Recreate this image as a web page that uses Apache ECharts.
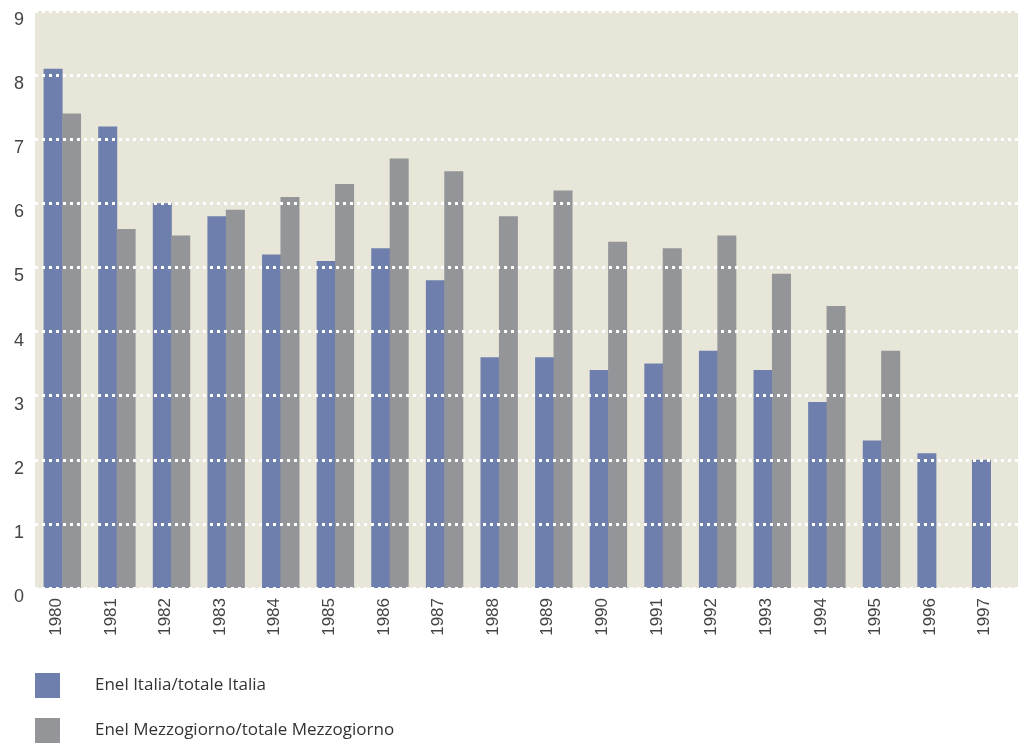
<!DOCTYPE html>
<html>
<head>
<meta charset="utf-8">
<script src="https://cdn.jsdelivr.net/npm/echarts@6/dist/echarts.min.js"></script>
<style>
  html, body { margin: 0; padding: 0; background: #ffffff; }
  #chart { width: 1023px; height: 743px; }
</style>
</head>
<body>
<div id="chart"></div>
<script>
// Years on the category axis
const years = ['1980','1981','1982','1983','1984','1985','1986','1987','1988',
               '1989','1990','1991','1992','1993','1994','1995','1996','1997'];

// Enel Italia / totale Italia
const italia = [8.1, 7.2, 6.0, 5.8, 5.2, 5.1, 5.3, 4.8, 3.6, 3.6, 3.4, 3.5, 3.7, 3.4, 2.9, 2.3, 2.1, 2.0];

// Enel Mezzogiorno / totale Mezzogiorno (no values for the last two years)
const mezzogiorno = [7.4, 5.6, 5.5, 5.9, 6.1, 6.3, 6.7, 6.5, 5.8, 6.2, 5.4, 5.3, 5.5, 4.9, 4.4, 3.7, null, null];

const seriesNames = ['Enel Italia/totale Italia', 'Enel Mezzogiorno/totale Mezzogiorno'];

const chart = echarts.init(document.getElementById('chart'), null, { renderer: 'canvas' });

const fontFamily = '"Liberation Sans", "DejaVu Sans", sans-serif';

// one legend block per series, stacked under the plot
function legendBlock(name, top) {
  return {
    orient: 'vertical',
    left: 35,
    top: top,
    padding: 0,
    itemWidth: 25,
    itemHeight: 25,
    icon: 'rect',
    data: [name],
    textStyle: {
      fontFamily: '"Open Sans", "Liberation Sans", sans-serif',
      fontSize: 17,
      color: '#333333',
      padding: [0, 0, 0, 30]
    }
  };
}

chart.setOption({
  animation: false,
  backgroundColor: '#ffffff',
  grid: {
    left: 35, right: 5, top: 11, bottom: 155,
    show: true,
    backgroundColor: '#e8e6d8',
    borderWidth: 0
  },
  legend: [
    legendBlock(seriesNames[0], 673),
    legendBlock(seriesNames[1], 718)
  ],
  xAxis: {
    type: 'category',
    data: years,
    axisLine: { show: false },
    axisTick: { show: false },
    axisLabel: {
      rotate: 90,
      margin: 10,
      fontFamily: fontFamily,
      fontSize: 17,
      lineHeight: 12,
      color: '#444444',
      // the empty second line nudges each year label toward the left bar
      formatter: function (v) { return v + '\n'; }
    }
  },
  yAxis: {
    type: 'value',
    min: 0,
    max: 9,
    interval: 1,
    z: 5,
    axisLine: { show: false },
    axisTick: { show: false },
    axisLabel: {
      margin: 11,
      fontFamily: fontFamily,
      fontSize: 18,
      color: '#444444',
      verticalAlign: 'top'
    },
    splitLine: {
      show: true,
      lineStyle: { color: '#ffffff', width: 3, type: [3, 4] }
    }
  },
  series: [
    {
      name: seriesNames[0],
      type: 'bar',
      data: italia,
      barWidth: 19,
      barGap: '-3%',
      z: 2,
      itemStyle: { color: '#6e7fad' }
    },
    {
      name: seriesNames[1],
      type: 'bar',
      data: mezzogiorno,
      barWidth: 19,
      barGap: '-3%',
      z: 2,
      itemStyle: { color: '#949598' }
    }
  ]
});
</script>
</body>
</html>
